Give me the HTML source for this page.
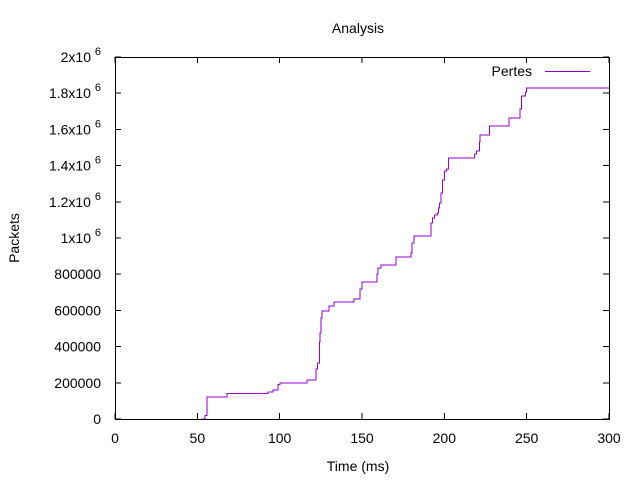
<!DOCTYPE html>
<html><head><meta charset="utf-8"><style>
body{margin:0;background:#fff}
svg{display:block;font-family:"Liberation Sans",sans-serif}
</style></head><body>
<svg id="chart" width="640" height="480" xmlns="http://www.w3.org/2000/svg">
<rect width="640" height="480" fill="#fff"/>
<text x="358" y="33" font-size="14" text-anchor="middle">Analysis</text>
<text x="358" y="471" font-size="14" text-anchor="middle">Time (ms)</text>
<text x="19" y="238" font-size="14" text-anchor="middle" transform="rotate(-90 19 238)">Packets</text>
<g id="axes" shape-rendering="crispEdges"></g>
<g id="series" shape-rendering="crispEdges"></g>
<rect x="115.5" y="57.5" width="494" height="362" fill="none" stroke="#000" stroke-width="1" shape-rendering="crispEdges"/>
<g>
<text x="532" y="76" font-size="14" text-anchor="end">Pertes</text>
<line x1="545" y1="71.5" x2="590" y2="71.5" stroke="#9400d3" stroke-width="1" shape-rendering="crispEdges"/>
</g>
</svg>
<script>
const times=[52.8,54.7,55.9,68,92.9,96,99,100.2,116.6,122,123,124.1,124.5,125.1,125.7,130,133,145,148.8,150,159.1,159.7,161.5,170.6,179.8,180.4,181.6,191.9,192.7,194.1,196,196.6,197.2,198,199,200,201.4,202.6,218.4,219.4,221.5,221.6,227.3,239.4,246.1,247,249.4,250,300];
const packets=[0,20000,121500,140000,150000,160000,190000,200000,215000,276000,309000,425000,475000,558000,597000,624000,646000,663000,718000,757000,800000,834000,851000,895000,917000,972000,1011000,1083000,1110000,1127000,1138000,1166000,1193000,1249000,1320000,1370000,1381000,1442000,1464000,1481000,1530000,1569000,1619000,1663000,1713000,1785000,1807000,1829000,1829000];
const xTicks=[0,50,100,150,200,250,300];
const yTicks=[0,200000,400000,600000,800000,1000000,1200000,1400000,1600000,1800000,2000000];
const yTickLabels=["0","200000","400000","600000","800000","1x10|6","1.2x10|6","1.4x10|6","1.6x10|6","1.8x10|6","2x10|6"];
const X0=115,X1=609,Y0=419,Y1=57;
const sx=t=>X0+(t-0)*(X1-X0)/300;
const sy=v=>Y0-(v/2000000)*(Y0-Y1);
const NS="http://www.w3.org/2000/svg";
const axes=document.getElementById('axes');
function mk(tag,attrs,parent){const e=document.createElementNS(NS,tag);for(const k in attrs)e.setAttribute(k,attrs[k]);parent.appendChild(e);return e;}
xTicks.forEach(t=>{
  const x=sx(t);
  const l1=mk('line',{x1:x,y1:Y0,x2:x,y2:Y0-6,stroke:'#000'},axes);
  
  
  const l2=mk('line',{x1:x,y1:Y1,x2:x,y2:Y1+6,stroke:'#000'},axes);
  
  
  const tx=mk('text',{x:x,y:443,'font-size':14,'text-anchor':'middle'},axes);
  tx.textContent=String(t);
  
  
});
yTicks.forEach((v,i)=>{
  const y=sy(v);
  const l1=mk('line',{x1:X0,y1:y,x2:X0+6,y2:y,stroke:'#000'},axes);
  
  
  const l2=mk('line',{x1:X1,y1:y,x2:X1-6,y2:y,stroke:'#000'},axes);
  
  
  const parts=yTickLabels[i].split('|');
  const tx=mk('text',{x:101,y:y+5,'font-size':14,'text-anchor':'end'},axes);
  
  
  if(parts.length===1){tx.textContent=parts[0];}
  else{
    const a=mk('tspan',{},tx);a.textContent=parts[0]+' ';
    const b=mk('tspan',{dy:-7,'font-size':11},tx);b.textContent=parts[1];
  }
});
let d='M'+sx(times[0])+','+sy(packets[0]);
for(let i=1;i<times.length;i++){d+=' H'+sx(times[i])+' V'+sy(packets[i]);}
const p=mk('path',{d:d,fill:'none',stroke:'#9400d3','stroke-width':1},document.getElementById('series'));


</script>
</body></html>
